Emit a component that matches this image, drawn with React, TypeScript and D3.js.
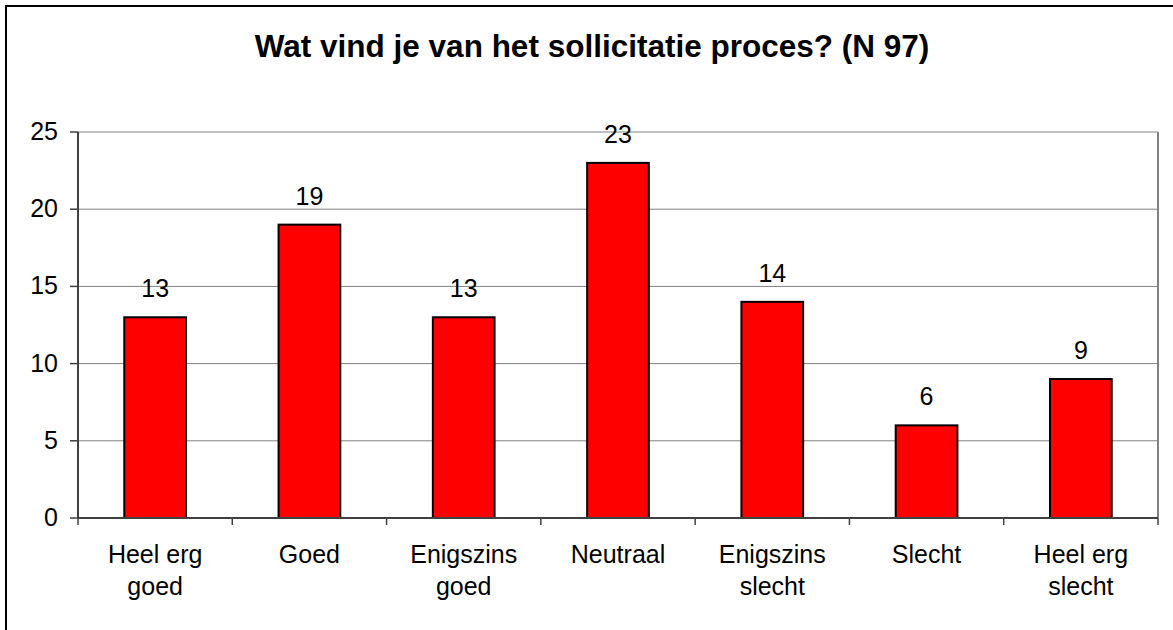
import { useMemo } from 'react'
import * as d3 from 'd3'

// Survey answers and counts
const CATEGORIES = [
  'Heel erg goed',
  'Goed',
  'Enigszins goed',
  'Neutraal',
  'Enigszins slecht',
  'Slecht',
  'Heel erg slecht',
]
const CATEGORY_LINES = [
  ['Heel erg', 'goed'],
  ['Goed'],
  ['Enigszins', 'goed'],
  ['Neutraal'],
  ['Enigszins', 'slecht'],
  ['Slecht'],
  ['Heel erg', 'slecht'],
]
const COUNTS = [13, 19, 13, 23, 14, 6, 9]
const Y_TICKS = [0, 5, 10, 15, 20, 25]
const TITLE = 'Wat vind je van het sollicitatie proces? (N 97)'

const WIDTH = 1173
const HEIGHT = 630
const FONT = '"Liberation Sans", Arial, sans-serif'

export default function App() {
  const plot = { left: 78, right: 1158, top: 132, bottom: 518 }

  const x = useMemo(
    () =>
      d3.scaleBand<string>()
        .domain(CATEGORIES)
        .range([plot.left, plot.right])
        .paddingInner(0.6)
        .paddingOuter(0.3),
    []
  )
  const y = useMemo(
    () => d3.scaleLinear().domain([0, 25]).range([plot.bottom, plot.top]),
    []
  )

  // category boundaries for the x-axis tick marks
  const boundaries = CATEGORIES.map(c => (x(c) ?? 0) + x.bandwidth() / 2 - x.step() / 2)
  boundaries.push(plot.right)

  const cx = (c: string) => (x(c) ?? 0) + x.bandwidth() / 2

  return (
    <svg
      width={WIDTH}
      height={HEIGHT}
      style={{ position: 'absolute', left: 0, top: 0, background: '#fff' }}
      fontFamily={FONT}
    >
      {/* outer chart frame, cropped on the right and bottom */}
      <rect x={6} y={6} width={1300} height={800} fill="none" stroke="#000" strokeWidth={2} />

      <text x={592} y={57} textAnchor="middle" fontSize={31.5} fontWeight="bold" fill="#000">
        {TITLE}
      </text>

      {/* gridlines */}
      {Y_TICKS.filter(t => t > 0).map(t => (
        <line key={t} x1={plot.left} x2={plot.right} y1={y(t)} y2={y(t)} stroke="#808080" strokeWidth={1} />
      ))}
      {/* plot area right border */}
      <line x1={plot.right} x2={plot.right} y1={plot.top} y2={plot.bottom} stroke="#808080" strokeWidth={2} />

      {/* bars */}
      {CATEGORIES.map((c, i) => (
        <rect
          key={c}
          x={x(c)}
          y={y(COUNTS[i])}
          width={x.bandwidth()}
          height={y(0) - y(COUNTS[i])}
          fill="#ff0000"
          stroke="#000"
          strokeWidth={2}
        />
      ))}

      {/* value labels */}
      {CATEGORIES.map((c, i) => (
        <text key={c} x={cx(c)} y={y(COUNTS[i]) - 20} textAnchor="middle" fontSize={25} fill="#000">
          {COUNTS[i]}
        </text>
      ))}

      {/* y axis */}
      <line x1={plot.left} x2={plot.left} y1={plot.top} y2={plot.bottom} stroke="#404040" strokeWidth={2} />
      {Y_TICKS.map(t => (
        <g key={t}>
          <line x1={plot.left - 8} x2={plot.left} y1={y(t)} y2={y(t)} stroke="#404040" strokeWidth={1.5} />
          <text x={58} y={y(t)} dy="0.32em" textAnchor="end" fontSize={25} fill="#000">
            {t}
          </text>
        </g>
      ))}

      {/* x axis */}
      <line x1={plot.left} x2={plot.right} y1={plot.bottom} y2={plot.bottom} stroke="#404040" strokeWidth={2} />
      {boundaries.map((b, i) => (
        <line key={i} x1={b} x2={b} y1={plot.bottom} y2={plot.bottom + 7} stroke="#404040" strokeWidth={1.5} />
      ))}
      {CATEGORIES.map((c, i) => (
        <text key={c} x={cx(c)} textAnchor="middle" fontSize={25} fill="#000">
          {CATEGORY_LINES[i].map((line, j) => (
            <tspan key={j} x={cx(c)} y={563 + j * 32}>
              {line}
            </tspan>
          ))}
        </text>
      ))}
    </svg>
  )
}
